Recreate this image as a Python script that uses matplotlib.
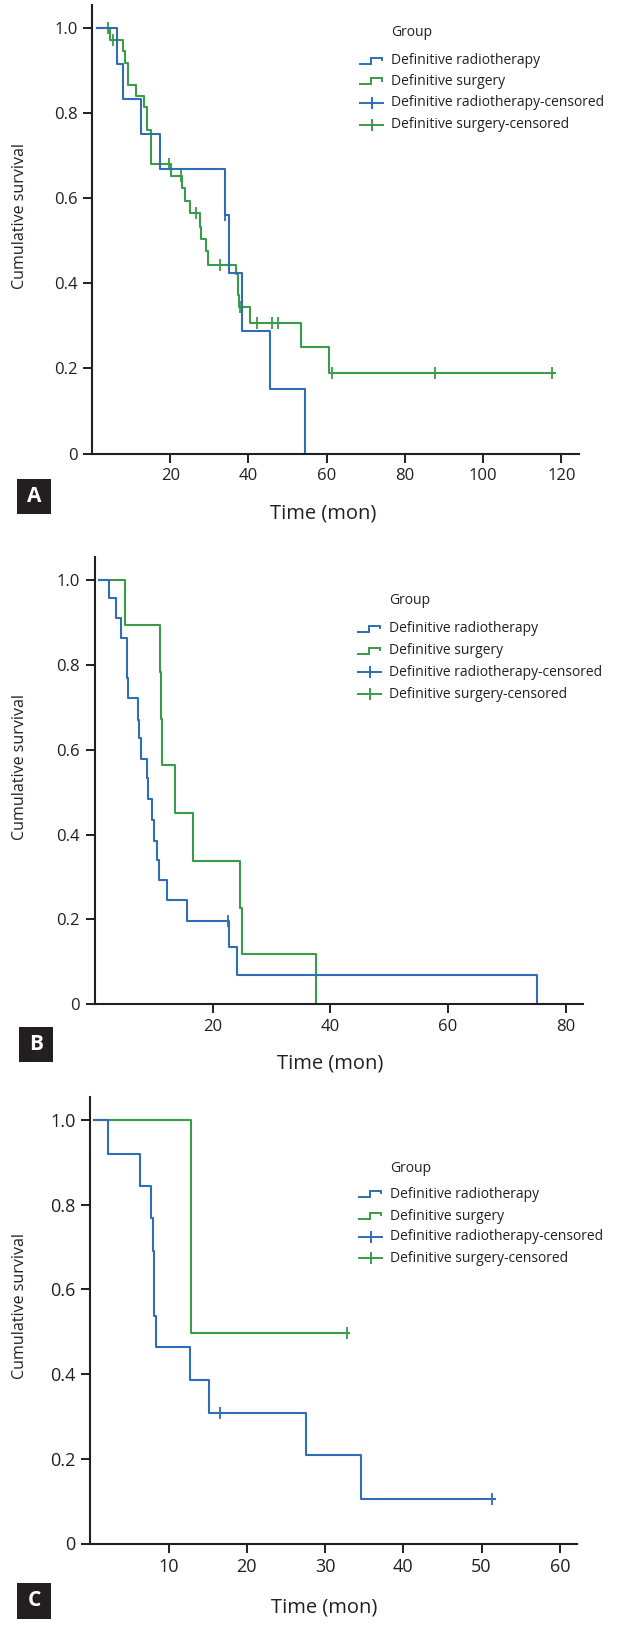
import matplotlib
matplotlib.use('Agg')
import matplotlib.pyplot as plt
from matplotlib.patches import Rectangle

plt.rcParams['font.family'] = ['Open Sans', 'DejaVu Sans']

W, H = 638, 1630
BLUE = '#2f6db4'
GREEN = '#3a9b48'
DARK = '#231f20'

# ---------------- data ----------------
# Panel A
a_rt_time = [1.2, 6.4, 8.0, 12.4, 17.4, 34.0, 35.1, 38.4, 45.5, 54.5]
a_rt_surv = [1.0, 0.917, 0.834, 0.752, 0.670, 0.560, 0.424, 0.287, 0.151, 0.0]
a_rt_cens_time = [34.0]
a_rt_cens_surv = [0.560]
a_su_time = [1.2, 4.5, 7.8, 8.5, 9.2, 11.2, 13.2, 14.0, 15.2, 20.2, 23.1, 23.8,
             25.0, 27.5, 27.9, 29.2, 29.7, 36.9, 37.3, 37.6, 40.4, 53.4, 60.7, 118.4]
a_su_surv = [1.0, 0.972, 0.946, 0.919, 0.867, 0.841, 0.815, 0.760, 0.680, 0.652, 0.624, 0.594,
             0.565, 0.532, 0.504, 0.476, 0.443, 0.423, 0.374, 0.344, 0.307, 0.250, 0.190, 0.190]
a_su_cens_time = [4.0, 5.4, 19.7, 22.7, 26.6, 32.6, 37.8, 42.3, 45.9, 47.6, 61.3, 87.7, 117.7]
a_su_cens_surv = [1.0, 0.972, 0.680, 0.652, 0.565, 0.443, 0.344, 0.307, 0.307, 0.307, 0.190, 0.190, 0.190]

# Panel B
b_rt_time = [0.8, 2.4, 3.7, 4.5, 5.4, 5.6, 7.3, 7.5, 7.9, 8.8, 9.0, 9.7, 10.0, 10.6,
             11.0, 12.2, 15.6, 22.8, 24.2, 75.1]
b_rt_surv = [1.0, 0.957, 0.910, 0.863, 0.769, 0.722, 0.671, 0.627, 0.579, 0.533, 0.483,
             0.434, 0.386, 0.340, 0.292, 0.245, 0.197, 0.134, 0.069, 0.0]
b_rt_cens_time = [22.6]
b_rt_cens_surv = [0.197]
b_su_time = [0.8, 5.15, 11.1, 11.3, 11.5, 13.7, 16.7, 24.7, 25.0, 37.6]
b_su_surv = [1.0, 0.893, 0.783, 0.673, 0.563, 0.450, 0.337, 0.228, 0.118, 0.0]
b_su_cens_time = []
b_su_cens_surv = []

# Panel C
c_rt_time = [0.5, 2.2, 6.3, 7.8, 8.05, 8.2, 8.35, 12.7, 15.2, 27.6, 34.6, 51.7]
c_rt_surv = [1.0, 0.920, 0.844, 0.769, 0.691, 0.538, 0.463, 0.386, 0.309, 0.208, 0.105, 0.105]
c_rt_cens_time = [16.6, 51.4]
c_rt_cens_surv = [0.309, 0.105]
c_su_time = [0.5, 12.9, 33.1]
c_su_surv = [1.0, 0.498, 0.498]
c_su_cens_time = [32.8]
c_su_cens_surv = [0.498]

y_ticks = [0, 0.2, 0.4, 0.6, 0.8, 1.0]
y_tick_labels = ['0', '0.2', '0.4', '0.6', '0.8', '1.0']
legend_title = 'Group'
legend_labels = ['Definitive radiotherapy', 'Definitive surgery',
                 'Definitive radiotherapy-censored', 'Definitive surgery-censored']
x_label = 'Time (mon)'
y_label = 'Cumulative survival'
panel_letters = ['A', 'B', 'C']

panels = [
    dict(px=(92, 579, 5, 453.5), xmax=124.5, xticks=[20, 40, 60, 80, 100, 120], fs=12,
         rt=(a_rt_time, a_rt_surv, a_rt_cens_time, a_rt_cens_surv),
         su=(a_su_time, a_su_surv, a_su_cens_time, a_su_cens_surv),
         leg=(360, 391, 32, [61, 81.5, 103, 125]),
         box=(17, 479, 34, 35), xl=(323, 514), yl=(20, 216)),
    dict(px=(94.7, 583, 556.7, 1004.3), xmax=82.9, xticks=[20, 40, 60, 80], fs=12,
         rt=(b_rt_time, b_rt_surv, b_rt_cens_time, b_rt_cens_surv),
         su=(b_su_time, b_su_surv, b_su_cens_time, b_su_cens_surv),
         leg=(358, 389, 600, [629, 651, 672, 694]),
         box=(19, 1027, 34, 35), xl=(330, 1064), yl=(20, 767)),
    dict(px=(90.3, 577, 1096.7, 1543.5), xmax=62.2, xticks=[10, 20, 30, 40, 50, 60], fs=13,
         rt=(c_rt_time, c_rt_surv, c_rt_cens_time, c_rt_cens_surv),
         su=(c_su_time, c_su_surv, c_su_cens_time, c_su_cens_surv),
         leg=(359, 390, 1169, [1194, 1216, 1237, 1258]),
         box=(17, 1583, 34, 36), xl=(324, 1607), yl=(20, 1306)),
]

fig = plt.figure(figsize=(W / 100, H / 100), dpi=100)

for p in panels:
    l, r, t, b = p['px']
    ax = fig.add_axes([l / W, 1 - b / H, (r - l) / W, (b - t) / H])
    ax.set_xlim(0, p['xmax'])
    ax.set_ylim(0, 1.055)
    for (tm, sv, ct, cs), col in ((p['su'], GREEN), (p['rt'], BLUE)):
        ax.step(tm, sv, where='post', color=col, lw=1.5)
        if ct:
            ax.plot(ct, cs, ls='none', marker='|', ms=8, mew=1.3, color=col)
    for s in ('top', 'right'):
        ax.spines[s].set_visible(False)
    for s in ('left', 'bottom'):
        ax.spines[s].set_linewidth(1.5)
        ax.spines[s].set_color(DARK)
    ax.set_xticks(p['xticks'])
    ax.set_yticks(y_ticks)
    ax.set_yticklabels(y_tick_labels)
    ax.tick_params(length=6.5, width=1.4, color=DARK, labelcolor=DARK,
                   labelsize=p['fs'], pad=4)
    ax.patch.set_alpha(0)

ov = fig.add_axes([0, 0, 1, 1])
ov.set_xlim(0, W)
ov.set_ylim(H, 0)
ov.axis('off')
ov.patch.set_alpha(0)

for p, letter in zip(panels, panel_letters):
    hx, tx, gy, rows = p['leg']
    ov.text(tx, gy, legend_title, fontsize=10, color=DARK, va='center', ha='left')
    for i, (lab, yc) in enumerate(zip(legend_labels, rows)):
        col = BLUE if i % 2 == 0 else GREEN
        if i < 2:
            ov.plot([hx, hx + 11, hx + 11, hx + 22, hx + 22],
                    [yc + 2.6, yc + 2.6, yc - 3.4, yc - 3.4, yc - 0.6],
                    color=col, lw=1.4, solid_joinstyle='miter')
        else:
            ov.plot([hx, hx + 23], [yc, yc], color=col, lw=1.4)
            ov.plot([hx + 11.5, hx + 11.5], [yc - 5, yc + 5], color=col, lw=1.4)
        ov.text(tx, yc, lab, fontsize=10, color=DARK, va='center', ha='left')
    bx, by, bw, bh = p['box']
    ov.add_patch(Rectangle((bx, by), bw, bh, facecolor=DARK, edgecolor='none'))
    ov.text(bx + bw / 2, by + bh / 2, letter, color='white', fontsize=15,
            fontweight='bold', ha='center', va='center')
    ov.text(p['xl'][0], p['xl'][1], x_label, fontsize=14.5, color=DARK,
            ha='center', va='center')
    ov.text(p['yl'][0], p['yl'][1], y_label, fontsize=11.5, color=DARK,
            ha='center', va='center', rotation=90)

fig.savefig('out.png', dpi=100)
